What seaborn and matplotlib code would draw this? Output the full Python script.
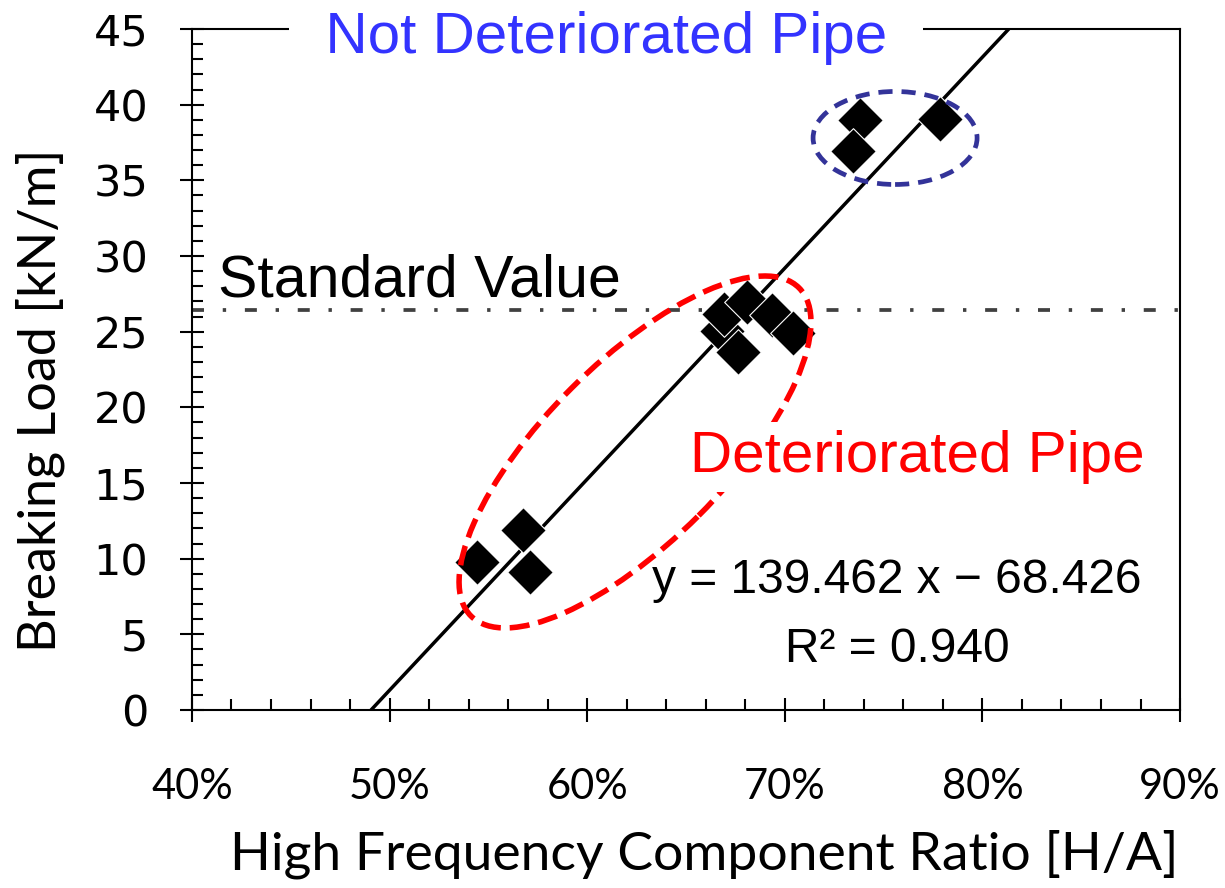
import matplotlib
matplotlib.use("Agg")
import matplotlib.pyplot as plt
import seaborn as sns
from matplotlib.patches import Ellipse
from matplotlib.ticker import MultipleLocator
from matplotlib import transforms

# measured pipes: high frequency component ratio (H/A) and breaking load (kN/m)
hf_ratio = [0.5442, 0.5675, 0.5711, 0.6682, 0.6692, 0.6809, 0.6763, 0.6935, 0.7041,
            0.7381, 0.7345, 0.7785]
breaking_load = [9.78, 11.90, 9.12, 25.05, 26.17, 26.97, 23.66, 26.11, 24.92,
                 39.00, 36.95, 39.06]

# linear fit shown on the chart
fit_slope = 139.462
fit_intercept = -68.426
fit_r2 = 0.940
standard_value = 26.4

x_ticks = [0.4, 0.5, 0.6, 0.7, 0.8, 0.9]
x_tick_labels = ["40%", "50%", "60%", "70%", "80%", "90%"]
y_ticks = [0, 5, 10, 15, 20, 25, 30, 35, 40, 45]
y_tick_labels = [str(v) for v in y_ticks]

sns.set_style("ticks")
plt.rcParams["font.family"] = ["Liberation Sans", "DejaVu Sans"]
plt.rcParams["text.color"] = "black"
plt.rcParams["axes.labelcolor"] = "black"
plt.rcParams["xtick.color"] = "black"
plt.rcParams["ytick.color"] = "black"

fig = plt.figure(figsize=(12.25, 8.88), dpi=100)
ax = fig.add_axes([0.1567, 0.2005, 0.8066, 0.7668])

# standard value line (dash-dot)
ax.axhline(standard_value, color="#404040", lw=2.7, dashes=(3.2, 5.0, 0.9, 5.0), zorder=1.5)

# regression line
ax.axline((0, fit_intercept), slope=fit_slope, color="black", lw=2.5, zorder=2)

sns.scatterplot(x=hf_ratio, y=breaking_load, marker="D", s=540, color="black",
                edgecolor="white", linewidth=0.8, ax=ax, zorder=3, legend=False)

ax.set_xlim(0.4, 0.9)
ax.set_ylim(0, 45)


def pixel_ellipse(cx, cy, w_px, h_px, angle, **kw):
    # ellipse sized in pixels, centred at a data point
    tr = transforms.Affine2D() + transforms.ScaledTranslation(cx, cy, ax.transData)
    e = Ellipse((0, 0), w_px, h_px, angle=angle, transform=tr, fill=False, **kw)
    ax.add_patch(e)
    return e


pixel_ellipse(0.6242, 17.05, 464, 180, 45, edgecolor="#ff0000", lw=4.0,
              linestyle=(0, (3.6, 1.6)), zorder=4)
pixel_ellipse(0.7558, 37.8, 164, 93, 0, edgecolor="#333399", lw=3.4,
              linestyle=(0, (3.0, 1.9)), zorder=4)

# annotations
ax.text(0.6095, 43.42, "  Not Deteriorated Pipe  ", color="#3333ff", fontsize=42,
        ha="center", va="baseline", zorder=6, clip_on=False,
        bbox=dict(facecolor="white", edgecolor="none", pad=3))
ax.text(0.7672, 15.73, "Deteriorated Pipe", color="#ff0000", fontsize=42,
        ha="center", va="baseline", zorder=6,
        bbox=dict(facecolor="white", edgecolor="none", pad=6))
ax.text(0.4132, 27.3, "Standard Value", color="black", fontsize=42.5,
        ha="left", va="baseline", zorder=6)
ax.text(0.7568, 7.73, f"y = {fit_slope:.3f} x \u2212 {abs(fit_intercept):.3f}",
        color="black", fontsize=34.5, ha="center", va="baseline", zorder=6)
ax.text(0.7568, 3.17, f"R\u00b2 = {fit_r2:.3f}", color="black", fontsize=34.5,
        ha="center", va="baseline", zorder=6)

# axes and ticks
ax.set_xticks(x_ticks)
ax.set_xticklabels(x_tick_labels, fontfamily=["Lato", "DejaVu Sans"], fontsize=30,
                   color="black")
ax.set_yticks(y_ticks)
ax.set_yticklabels(y_tick_labels, fontfamily=["DejaVu Sans"], fontsize=31, color="black")
ax.xaxis.set_minor_locator(MultipleLocator(0.02))
ax.yaxis.set_minor_locator(MultipleLocator(1))

ax.tick_params(which="major", direction="inout", length=17, width=1.5, color="black",
               left=True, bottom=True, top=False, right=False)
ax.tick_params(which="minor", direction="in", length=8, width=1.5, color="black",
               left=True, bottom=True, top=False, right=False)
ax.tick_params(axis="y", which="major", pad=23)
ax.tick_params(axis="x", which="major", pad=33)

for side in ["left", "bottom", "top", "right"]:
    ax.spines[side].set_visible(True)
    ax.spines[side].set_color("black")
    ax.spines[side].set_linewidth(1.5)

ax.set_xlabel("High Frequency Component Ratio [H/A]", fontsize=38.5, color="black",
              fontfamily=["Lato", "DejaVu Sans"])
ax.set_ylabel("Breaking Load [kN/m]", fontsize=37.5, color="black",
              fontfamily=["Lato", "DejaVu Sans"])
ax.xaxis.set_label_coords(0.518, -0.176)
ax.yaxis.set_label_coords(-0.1285, 0.455)

fig.savefig("out.png", dpi=100)
